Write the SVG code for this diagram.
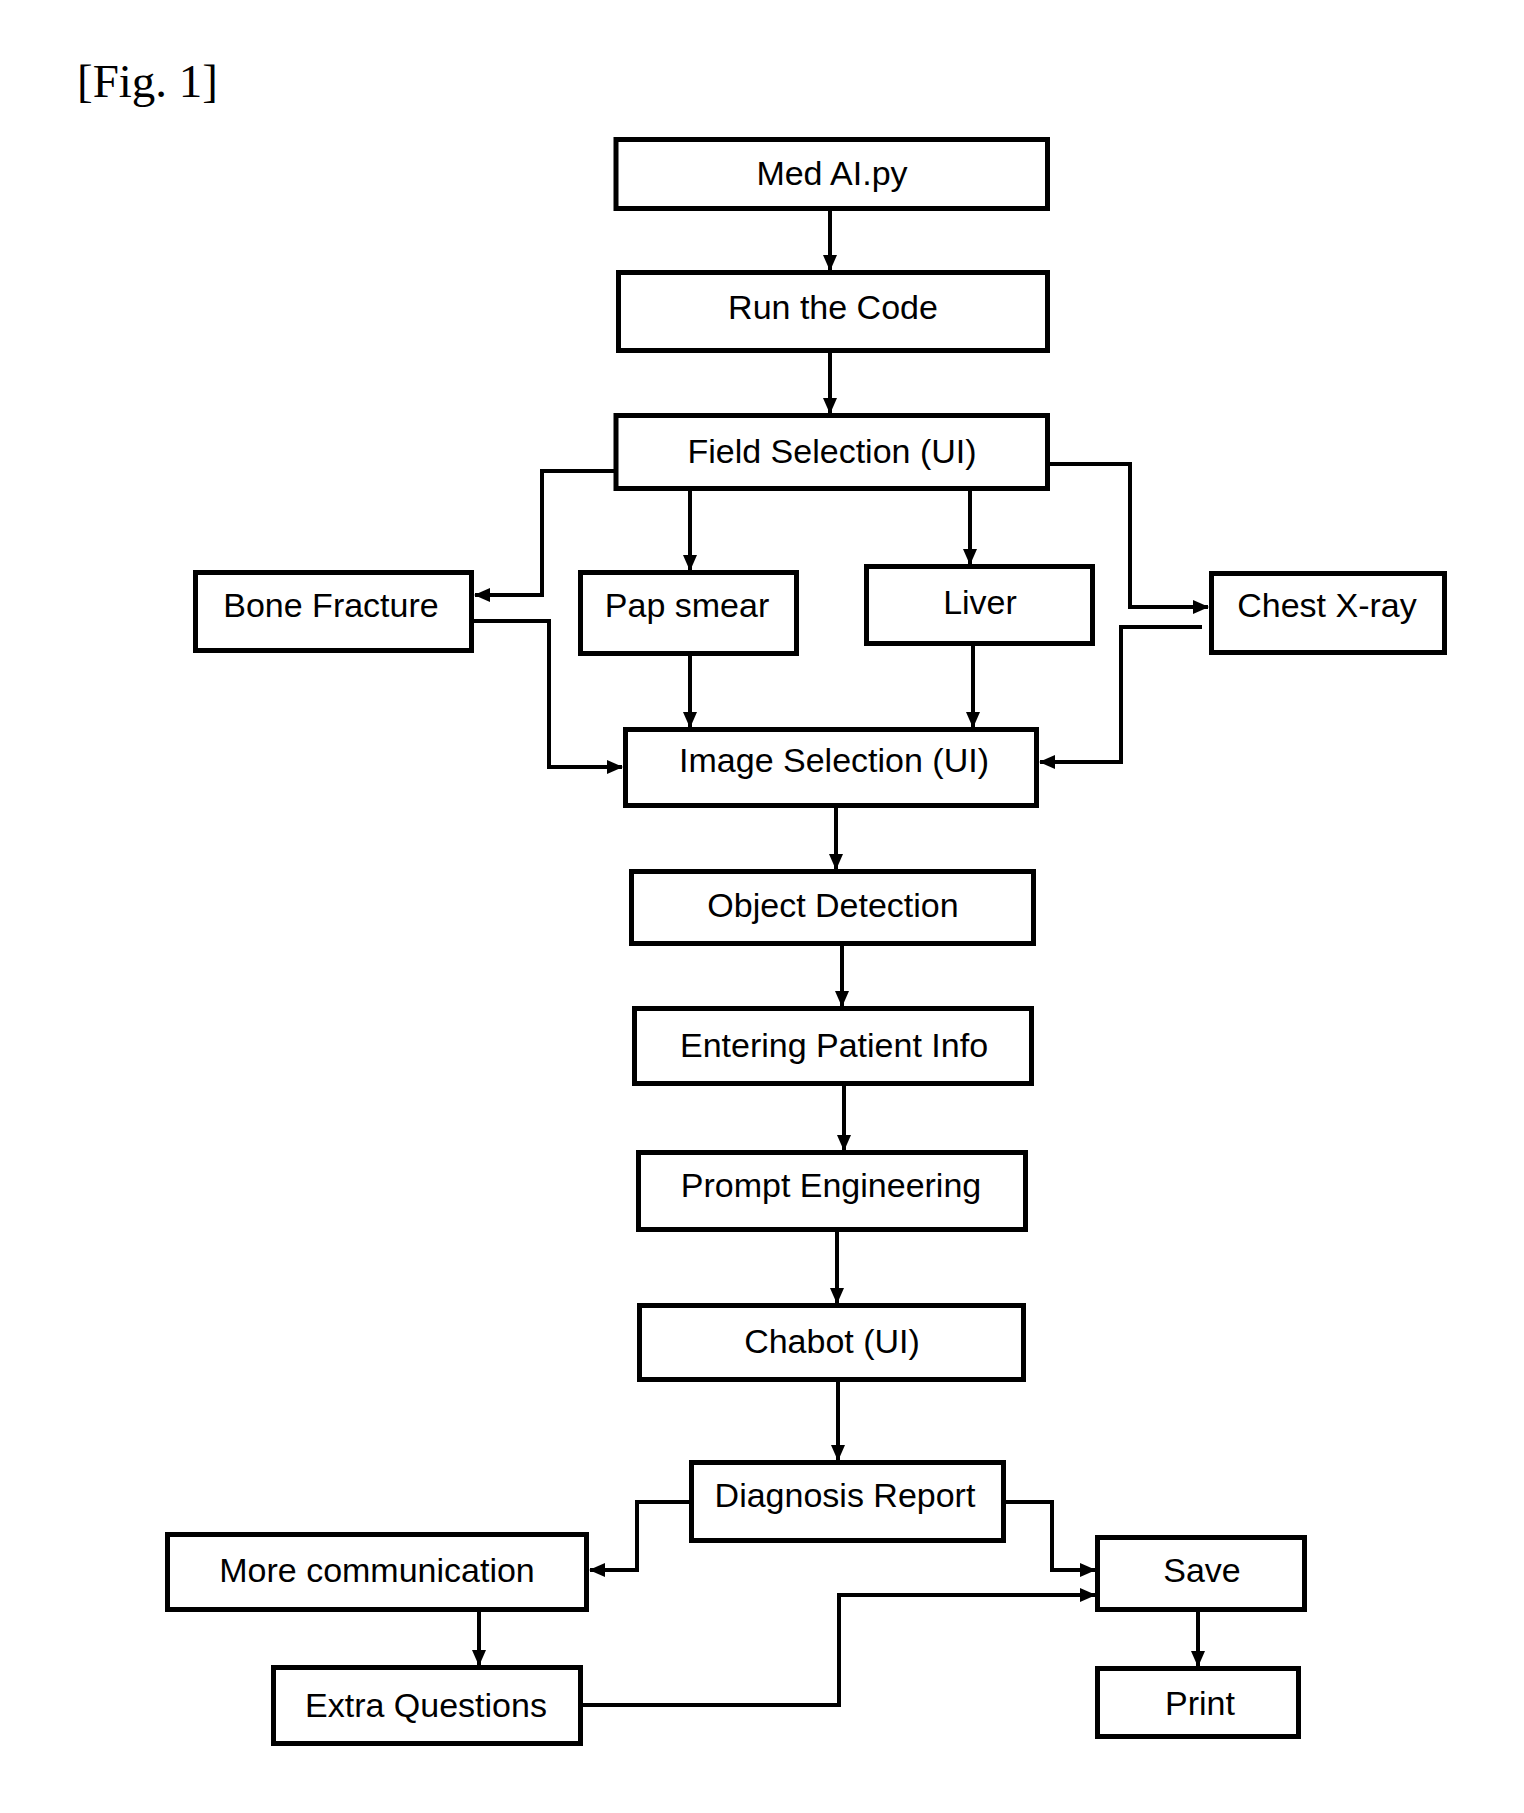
<svg xmlns="http://www.w3.org/2000/svg" width="1524" height="1813" viewBox="0 0 1524 1813">
<style>
.box{fill:#fff;stroke:#000;stroke-width:5}
.lbl{font-family:"Liberation Sans",Arial,sans-serif;font-size:34px;fill:#000;text-anchor:middle}
.fig{font-family:"Liberation Serif","Times New Roman",serif;font-size:47px;fill:#000}
.con{fill:none;stroke:#000;stroke-width:4;marker-end:url(#ah)}
</style>
<defs>
<marker id="ah" markerUnits="userSpaceOnUse" markerWidth="16" markerHeight="16" viewBox="0 0 16 16" refX="15" refY="8" orient="auto">
<path d="M0,1 L16,8 L0,15 z" fill="#000"/>
</marker>
</defs>
<rect width="1524" height="1813" fill="#fff"/>
<text class="fig" x="77" y="97">[Fig. 1]</text>

<g id="connectors">
<path class="con" d="M830,211 V270"/>
<path class="con" d="M830,353 V413"/>
<path class="con" d="M614,471 H542 V595 H475"/>
<path class="con" d="M690,491 V570"/>
<path class="con" d="M970,491 V564"/>
<path class="con" d="M1048,464 H1130 V607 H1208"/>
<path class="con" d="M474,621 H549 V767 H622"/>
<path class="con" d="M690,656 V727"/>
<path class="con" d="M973,646 V727"/>
<path class="con" d="M1202,627 H1121 V762 H1040"/>
<path class="con" d="M836,808 V869"/>
<path class="con" d="M842,946 V1006"/>
<path class="con" d="M844,1086 V1150"/>
<path class="con" d="M837,1232 V1303"/>
<path class="con" d="M838,1382 V1460"/>
<path class="con" d="M689,1502 H637 V1570 H590"/>
<path class="con" d="M1006,1502 H1052 V1570 H1095"/>
<path class="con" d="M479,1612 V1665"/>
<path class="con" d="M583,1705 H839 V1595 H1095"/>
<path class="con" d="M1198,1612 V1666"/>
</g>

<g id="med-ai"><rect class="box" x="616" y="139.5" width="431.5" height="69"/><text class="lbl" x="832" y="185">Med AI.py</text></g>
<g id="run-code"><rect class="box" x="618.5" y="272.5" width="429" height="78"/><text class="lbl" x="833" y="319">Run the Code</text></g>
<g id="field-selection"><rect class="box" x="616" y="415.5" width="431.5" height="73"/><text class="lbl" x="832" y="463">Field Selection (UI)</text></g>
<g id="bone-fracture"><rect class="box" x="195.5" y="572.5" width="276" height="78"/><text class="lbl" x="331" y="617">Bone Fracture</text></g>
<g id="pap-smear"><rect class="box" x="580.5" y="572.5" width="216" height="81"/><text class="lbl" x="687" y="617">Pap smear</text></g>
<g id="liver"><rect class="box" x="866.5" y="566.5" width="226" height="77"/><text class="lbl" x="980" y="614">Liver</text></g>
<g id="chest-xray"><rect class="box" x="1211.5" y="573.5" width="233" height="79"/><text class="lbl" x="1327" y="617">Chest X-ray</text></g>
<g id="image-selection"><rect class="box" x="625.5" y="729.5" width="411" height="76"/><text class="lbl" x="834" y="772">Image Selection (UI)</text></g>
<g id="object-detection"><rect class="box" x="631.5" y="871.5" width="402" height="72"/><text class="lbl" x="833" y="917">Object Detection</text></g>
<g id="entering-patient-info"><rect class="box" x="634.5" y="1008.5" width="397" height="75"/><text class="lbl" x="834" y="1057">Entering Patient Info</text></g>
<g id="prompt-engineering"><rect class="box" x="638.5" y="1152.5" width="387" height="77"/><text class="lbl" x="831" y="1197">Prompt Engineering</text></g>
<g id="chabot"><rect class="box" x="639.5" y="1305.5" width="384" height="74"/><text class="lbl" x="832" y="1353">Chabot (UI)</text></g>
<g id="diagnosis-report"><rect class="box" x="691.5" y="1462.5" width="312" height="78"/><text class="lbl" x="845" y="1507">Diagnosis Report</text></g>
<g id="more-communication"><rect class="box" x="167.5" y="1534.5" width="419" height="75"/><text class="lbl" x="377" y="1582">More communication</text></g>
<g id="save"><rect class="box" x="1097.5" y="1537.5" width="207" height="72"/><text class="lbl" x="1202" y="1582">Save</text></g>
<g id="extra-questions"><rect class="box" x="273.5" y="1667.5" width="307" height="76"/><text class="lbl" x="426" y="1717">Extra Questions</text></g>
<g id="print"><rect class="box" x="1097.5" y="1668.5" width="201" height="68"/><text class="lbl" x="1200" y="1715">Print</text></g>
</svg>
